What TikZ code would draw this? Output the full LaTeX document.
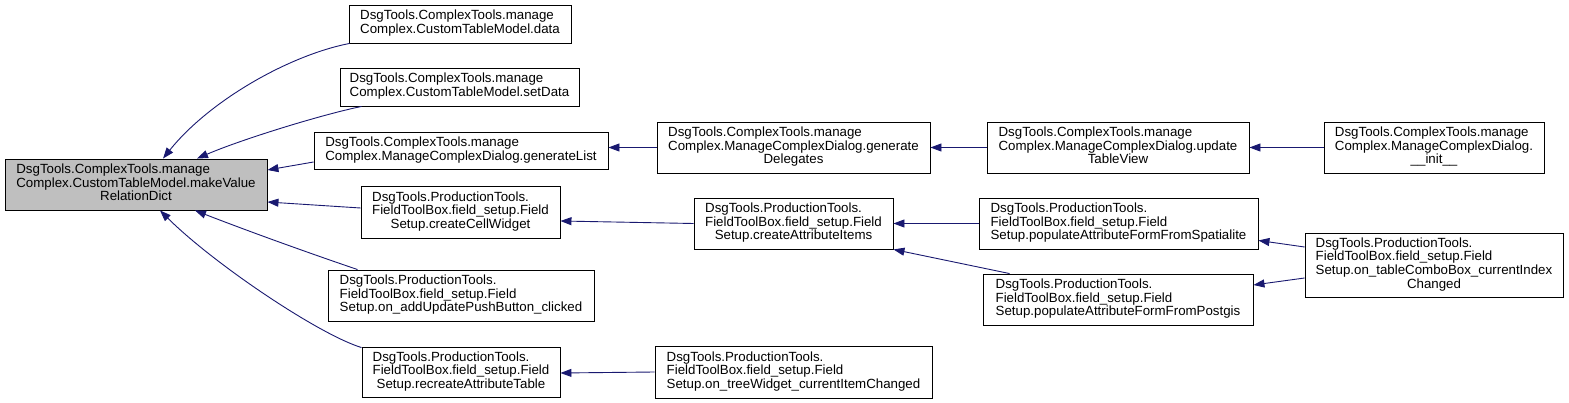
\documentclass[tikz,border=0pt]{standalone}
\usepackage{fontspec}
\setmainfont{Liberation Sans}
\usetikzlibrary{arrows.meta,calc}
\definecolor{edgeblue}{HTML}{191970}
\definecolor{maingray}{HTML}{BFBFBF}
\newcommand\lb[2]{\begin{tabular}{@{}l@{}}#1\\\multicolumn{1}{@{}c@{}}{#2}\end{tabular}}
\newcommand\bx[7][]{\node[box,#1,minimum width={(#5-#3)*1pt},minimum height={(#6-#4)*1pt}] (#2) at ({(#3+#5)/2},{(#4+#6)/2}) {#7};}
\tikzset{
  box/.style={draw=black,line width=0.9pt,inner sep=0pt,align=center,font=\fontsize{13.3}{13.6}\selectfont},
  edge/.style={draw=edgeblue,line width=0.9pt,-{Triangle[length=11pt,width=8pt]},fill=none},
}
\begin{document}
\begin{tikzpicture}[x=1pt,y=-1pt]
\useasboundingbox (0,0) rectangle (1569,403);
\bx[fill=maingray]{main}{5}{159}{267}{210}{\lb{DsgTools.ComplexTools.manage\\Complex.CustomTableModel.makeValue}{RelationDict}}
\bx{data}{349}{5}{571}{43}{\lb{DsgTools.ComplexTools.manage}{Complex.CustomTableModel.data}}
\bx{setData}{340}{68}{579}{106}{\lb{DsgTools.ComplexTools.manage}{Complex.CustomTableModel.setData}}
\bx{genList}{314}{132}{608}{169}{\lb{DsgTools.ComplexTools.manage}{Complex.ManageComplexDialog.generateList}}
\bx{cellW}{361}{186}{560}{238}{\lb{DsgTools.ProductionTools.\\FieldToolBox.field\_setup.Field}{Setup.createCellWidget}}
\bx{addUpd}{328}{270}{594}{321}{\lb{DsgTools.ProductionTools.\\FieldToolBox.field\_setup.Field}{Setup.on\_addUpdatePushButton\_clicked}}
\bx{recreate}{362}{347}{560}{397}{\lb{DsgTools.ProductionTools.\\FieldToolBox.field\_setup.Field}{Setup.recreateAttributeTable}}
\bx{genDel}{657}{122}{930}{173}{\lb{DsgTools.ComplexTools.manage\\Complex.ManageComplexDialog.generate}{Delegates}}
\bx{attrItems}{694}{198}{893}{249}{\lb{DsgTools.ProductionTools.\\FieldToolBox.field\_setup.Field}{Setup.createAttributeItems}}
\bx{treeW}{655}{346}{932}{398}{\lb{DsgTools.ProductionTools.\\FieldToolBox.field\_setup.Field}{Setup.on\_treeWidget\_currentItemChanged}}
\bx{updTV}{987}{122}{1249}{173}{\lb{DsgTools.ComplexTools.manage\\Complex.ManageComplexDialog.update}{TableView}}
\bx{spatialite}{979}{198}{1258}{249}{\lb{DsgTools.ProductionTools.\\FieldToolBox.field\_setup.Field}{Setup.populateAttributeFormFromSpatialite}}
\bx{postgis}{983}{274}{1253}{325}{\lb{DsgTools.ProductionTools.\\FieldToolBox.field\_setup.Field}{Setup.populateAttributeFormFromPostgis}}
\bx{init}{1324}{122}{1544}{173}{\lb{DsgTools.ComplexTools.manage\\Complex.ManageComplexDialog.}{\_\_init\_\_}}
\bx{combo}{1305}{233}{1563}{297}{\lb{DsgTools.ProductionTools.\\FieldToolBox.field\_setup.Field\\Setup.on\_tableComboBox\_currentIndex}{Changed}}
% edges into main
\draw[edge] ($(data.south west)+(1,0)$) .. controls (290,55) and (210,100) .. ($(main.north)+(27,0)$);
\draw[edge] ($(setData.south west)+(22,0)$) .. controls (320,115) and (240,140) .. ($(main.north)+(61,0)$);
\draw[edge] ($(genList.west)+(0,11.5)$) -- ($(main.east)+(0,-14.5)$);
\draw[edge] ($(cellW.west)+(0,-4)$) -- ($(main.east)+(0,17.5)$);
\draw[edge] ($(addUpd.north west)+(30,0)$) .. controls (300,250) and (240,228) .. ($(main.south)+(59,0)$);
\draw[edge] ($(recreate.north west)+(0,1)$) .. controls (320,335) and (215,265) .. ($(main.south)+(24,0)$);
% other edges
\draw[edge] (genDel.west) -- (genDel.west -| genList.east);
\draw[edge] (updTV.west) -- (genDel.east);
\draw[edge] (init.west) -- (updTV.east);
\draw[edge] (attrItems.west) -- ($(cellW.east)+(0,9)$);
\draw[edge] (spatialite.west) -- (attrItems.east);
\draw[edge] ($(postgis.north west)+(27,0)$) -- (attrItems.south east);
\draw[edge] (treeW.west) -- ($(recreate.east)+(0,1)$);
\draw[edge] ($(combo.west)+(0,-18)$) -- ($(spatialite.south east)+(0,-9)$);
\draw[edge] ($(combo.west)+(0,13)$) -- ($(postgis.east)+(0,-14.5)$);
\end{tikzpicture}
\end{document}
